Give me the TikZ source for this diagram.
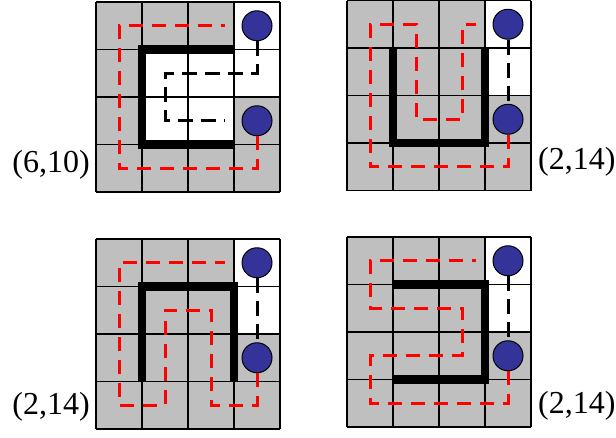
\documentclass[tikz,border=0pt]{standalone}
\usepackage{fontspec}
\setmainfont{Liberation Serif}
\usepackage{tikz}
\colorlet{cellgray}{black!25}
\definecolor{stoneblue}{RGB}{51,51,153}
\tikzset{
  board/.style   ={x=46pt, y=-47.5pt},
  cell/.style    ={fill=cellgray},
  gridline/.style={black, line width=1.3pt},
  wall/.style    ={black, line width=8.5pt, line join=miter},
  route/.style   ={red, line width=3pt, line join=miter,
                   dash pattern=on 14pt off 9pt},
  link/.style    ={black, line width=3pt, dash pattern=on 15pt off 8pt},
  stone/.style   ={circle, draw=black, fill=stoneblue, line width=1pt,
                   minimum size=30pt, inner sep=0pt},
  score/.style   ={font=\rmfamily\fontsize{32}{38}\selectfont, inner sep=0pt},
}

\begin{document}
\begin{tikzpicture}[x=1pt, y=-1pt]
\useasboundingbox (0,0) rectangle (616,437);

% top left board
\begin{scope}[shift={(96,2)}, board]
  \fill[cell] (0,0) rectangle (4,4);
  \foreach \c/\r in {3/0, 3/1, 1/1, 2/1, 1/2, 2/2}
    \fill[white] (\c,\r) rectangle ++(1,1);
  \foreach \i in {0,...,4} {
    \draw[gridline] (\i,0) -- (\i,4);
    \draw[gridline] (0,\i) -- (4,\i);
  }
  \draw[wall] (3,1) -- (1,1) -- (1,3) -- (3,3);
  \node[stone] (p1up) at (3.5,0.5) {};
  \node[stone] (p1dn) at (3.5,2.5) {};
  \draw[link] (p1up) -- (3.5,1.5) -- (1.5,1.5) -- (1.5,2.5) -- (2.8,2.5);
  \draw[route] (p1dn) -- (3.5,3.5) -- (0.5,3.5) -- (0.5,0.5) -- (2.8,0.5);
\end{scope}

% top right board
\begin{scope}[shift={(347,0.5)}, board]
  \fill[cell] (0,0) rectangle (4,4);
  \foreach \c/\r in {3/0, 3/1}
    \fill[white] (\c,\r) rectangle ++(1,1);
  \foreach \i in {0,...,4} {
    \draw[gridline] (\i,0) -- (\i,4);
    \draw[gridline] (0,\i) -- (4,\i);
  }
  \draw[wall] (1,1) -- (1,3) -- (3,3) -- (3,1);
  \node[stone] (p2up) at (3.5,0.5) {};
  \node[stone] (p2dn) at (3.5,2.5) {};
  \draw[link] (p2up) -- (p2dn);
  \draw[route] (p2dn) -- (3.5,3.5) -- (0.5,3.5) -- (0.5,0.5) -- (1.5,0.5)
    -- (1.5,2.5) -- (2.5,2.5) -- (2.5,0.5) -- (2.8,0.5);
\end{scope}

% bottom left board
\begin{scope}[shift={(96,239)}, board]
  \fill[cell] (0,0) rectangle (4,4);
  \foreach \c/\r in {3/0, 3/1}
    \fill[white] (\c,\r) rectangle ++(1,1);
  \foreach \i in {0,...,4} {
    \draw[gridline] (\i,0) -- (\i,4);
    \draw[gridline] (0,\i) -- (4,\i);
  }
  \draw[wall] (1,3) -- (1,1) -- (3,1) -- (3,3);
  \node[stone] (p3up) at (3.5,0.5) {};
  \node[stone] (p3dn) at (3.5,2.5) {};
  \draw[link] (p3up) -- (p3dn);
  \draw[route] (p3dn) -- (3.5,3.5) -- (2.5,3.5) -- (2.5,1.5) -- (1.5,1.5)
    -- (1.5,3.5) -- (0.5,3.5) -- (0.5,0.5) -- (2.8,0.5);
\end{scope}

% bottom right board
\begin{scope}[shift={(347,237)}, board]
  \fill[cell] (0,0) rectangle (4,4);
  \foreach \c/\r in {3/0, 3/1}
    \fill[white] (\c,\r) rectangle ++(1,1);
  \foreach \i in {0,...,4} {
    \draw[gridline] (\i,0) -- (\i,4);
    \draw[gridline] (0,\i) -- (4,\i);
  }
  \draw[wall] (1,1) -- (3,1) -- (3,3) -- (1,3);
  \node[stone] (p4up) at (3.5,0.5) {};
  \node[stone] (p4dn) at (3.5,2.5) {};
  \draw[link] (p4up) -- (p4dn);
  \draw[route] (p4dn) -- (3.5,3.5) -- (0.5,3.5) -- (0.5,2.5) -- (2.5,2.5)
    -- (2.5,1.5) -- (0.5,1.5) -- (0.5,0.5) -- (2.8,0.5);
\end{scope}

% scores
\node[score, anchor=east] (p1score) at (90,165) {(6,10)};
\node[score, anchor=west] (p2score) at (538,162) {(2,14)};
\node[score, anchor=east] (p3score) at (90,407) {(2,14)};
\node[score, anchor=west] (p4score) at (538,406) {(2,14)};

\end{tikzpicture}
\end{document}
